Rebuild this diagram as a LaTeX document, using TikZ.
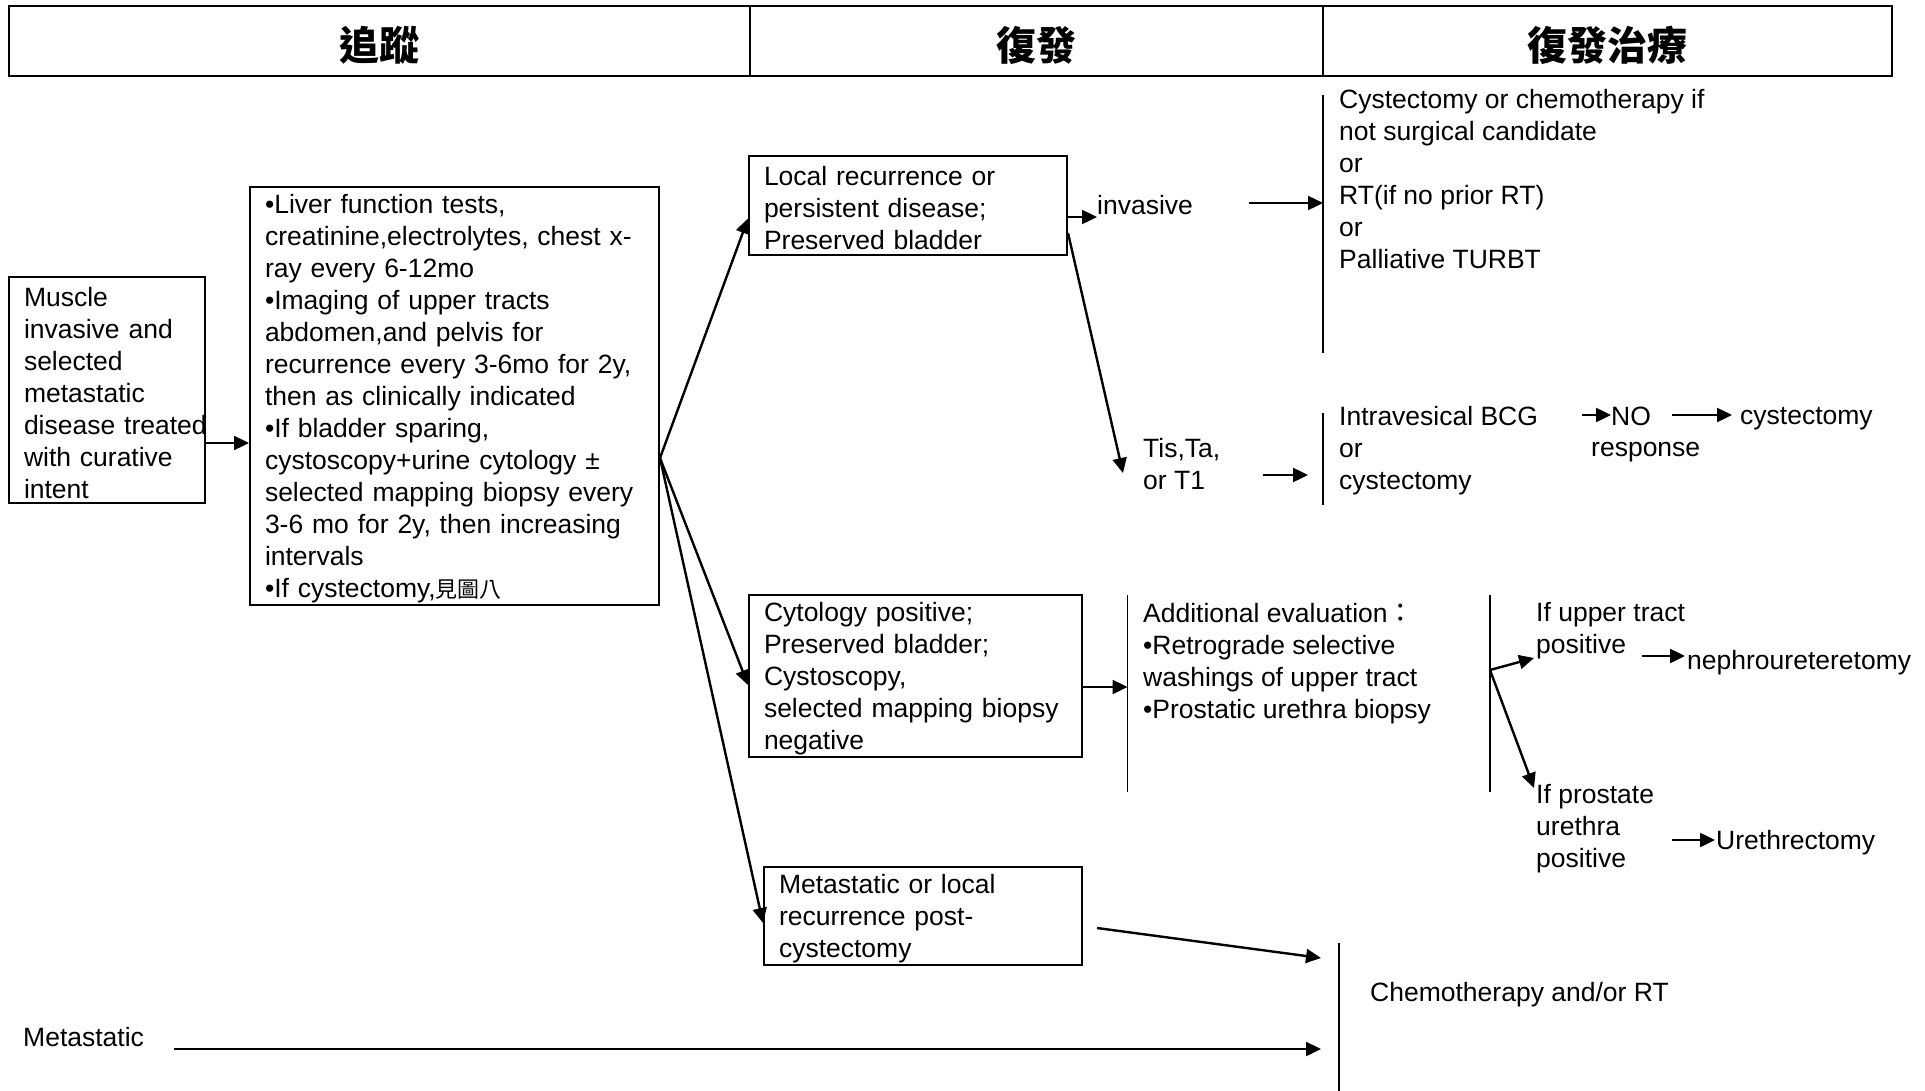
\documentclass[tikz,border=0pt]{standalone}
\usepackage{fontspec}
\setmainfont{Liberation Sans}
\newfontfamily\cjk{Noto Sans CJK TC}
\usetikzlibrary{arrows.meta,calc}
\begin{document}
\begin{tikzpicture}[x=1pt,y=-1pt,
  every node/.style={font=\fontsize{26.5}{32}\selectfont, inner sep=0pt},
  box/.style={draw, line width=2pt, align=left, inner xsep=15pt, inner ysep=0pt,
    execute at begin node={\rule{0pt}{24.5pt}}},
  hdr/.style={draw, line width=2.2pt, minimum height=70pt},
  hdrtext/.style={font=\cjk\bfseries\fontsize{40}{44}\selectfont},
  txt/.style={anchor=west, align=left},
  arr/.style={line width=2.4pt, -{Triangle[length=15pt,width=14pt]}},
  sep/.style={line width=1.6pt}
]
\fill[white] (0,0) rectangle (1925,1091);
\useasboundingbox (0,0) rectangle (1925,1091);

% header
\node[hdr, minimum width=741pt] (h1) at (379.5,41) {};
\node[hdr, minimum width=573pt] (h2) at (1036.5,41) {};
\node[hdr, minimum width=569pt] (h3) at (1607.5,41) {};
\node[hdrtext] (h1t) at ([yshift=-4pt]h1.center) {追蹤};
\node[hdrtext] (h2t) at ([yshift=-4pt]h2.center) {復發};
\node[hdrtext] (h3t) at ([yshift=-4pt]h3.center) {復發治療};

% boxes
\node[box, text width=166pt, minimum height=226pt] (b1) at (107,390)
  {Muscle\\invasive and\\selected\\metastatic\\disease~treated\\with curative\\intent};
\node[box, text width=379pt, minimum height=418pt] (b2) at (454.5,396)
  {•Liver function tests,\\creatinine,electrolytes, chest x-\\ray every 6-12mo\\•Imaging of upper tracts\\abdomen,and pelvis for\\recurrence every 3-6mo for 2y,\\then as clinically indicated\\•If bladder sparing,\\cystoscopy+urine cytology ±\\selected mapping biopsy every\\3-6 mo for 2y, then increasing\\intervals\\•If cystectomy,{\cjk\fontsize{22}{32}\selectfont 見圖八}};
\node[box, text width=288pt, minimum height=99pt] (b3) at (908,205.5)
  {Local recurrence or\\persistent disease;\\Preserved bladder};
\node[box, text width=303pt, minimum height=162pt] (b4) at (915.5,676)
  {Cytology positive;\\Preserved bladder;\\Cystoscopy,\\selected mapping biopsy\\negative};
\node[box, text width=288pt, minimum height=98pt] (b5) at (923,916)
  {Metastatic or local\\recurrence post-\\cystectomy};

% free texts
\node[txt] (inv) at (1097,205) {invasive};
\node[txt] (t1) at (1339,179) {Cystectomy or chemotherapy if\\not surgical candidate\\or\\RT(if no prior RT)\\or\\Palliative TURBT};
\node[txt] (tis) at (1143,464) {Tis,Ta,\\or T1};
\node[txt] (bcg) at (1339,451) {Intravesical BCG\\or\\cystectomy};
\node[txt] (no) at (1611,416) {NO};
\node[txt] (resp) at (1591,452) {response};
\node[txt] (cy2) at (1740,419) {cystectomy};
\node[txt] (add) at (1143,664) {Additional evaluation{\cjk ：}\\•Retrograde selective\\washings of upper tract\\•Prostatic urethra biopsy};
\node[txt] (up) at (1536,631) {If upper tract\\positive};
\node[txt] (neph) at (1687,662.5) {nephroureteretomy};
\node[txt] (pros) at (1536,829) {If prostate\\urethra\\positive};
\node[txt] (ure) at (1716,842.5) {Urethrectomy};
\node[txt] (chemo) at (1370,995) {Chemotherapy and/or RT};
\node[txt] (meta) at (23,1037) {Metastatic};

% bracket lines
\coordinate (L1t) at (1323,95);   \coordinate (L1b) at (1323,353);
\coordinate (L2t) at (1323,413);  \coordinate (L2b) at (1323,505);
\coordinate (L3t) at (1127.5,595); \coordinate (L3b) at (1127.5,792);
\coordinate (L4t) at (1490,595);  \coordinate (L4b) at (1490,792);
\coordinate (L5t) at (1339,943);  \coordinate (L5b) at (1339,1091);
\draw[sep] (L1t) -- (L1b);
\draw[sep] (L2t) -- (L2b);
\draw[sep] (L3t) -- (L3b);
\draw[sep] (L4t) -- (L4b);
\draw[sep] (L5t) -- (L5b);

% free arrow ends
\coordinate (fan) at ([yshift=-62pt]b2.east);
\coordinate (invS) at (1249,203);
\coordinate (tisE) at (1123,473);
\coordinate (tisS) at (1263,475);
\coordinate (tisT) at (1308,475);
\coordinate (noS) at (1582,415);
\coordinate (cyS) at (1672,415);
\coordinate (cyT) at (1732,415);
\coordinate (split) at (1490,670);
\coordinate (upT) at (1534,658);
\coordinate (prT) at (1534,788);
\coordinate (nephS) at (1642,656);
\coordinate (nephT) at (1685,656);
\coordinate (ureS) at (1672,840);
\coordinate (ureT) at (1715,840);
\coordinate (b5S) at (1097,928);
\coordinate (b5T) at (1321,958);
\coordinate (metaS) at (174,1049);
\coordinate (metaT) at (1321,1049);

% connectors
\draw[arr] ([yshift=-53pt]b1.east) -- ([yshift=-47pt]b2.west);
\draw[arr] (fan) -- ([yshift=-13pt]b3.west);
\draw[arr] (fan) -- ([yshift=-9pt]b4.west);
\draw[arr] (fan) -- ([yshift=-7pt]b5.west);
\draw[arr] ([yshift=-11.5pt]b3.east) -- ([yshift=-12pt]inv.west);
\draw[arr] (invS) -- (invS -| L1t);
\draw[arr] ([yshift=-27.5pt]b3.east) -- (tisE);
\draw[arr] (tisS) -- (tisT);
\draw[arr] (noS) -- (noS -| no.west);
\draw[arr] (cyS) -- (cyT);
\draw[arr] ([yshift=-11pt]b4.east) -- ([yshift=-11pt]b4.east -| L3t);
\draw[arr] (split) -- (upT);
\draw[arr] (split) -- (prT);
\draw[arr] (nephS) -- (nephT);
\draw[arr] (ureS) -- (ureT);
\draw[arr] (b5S) -- (b5T);
\draw[arr] (metaS) -- (metaT);
\end{tikzpicture}
\end{document}
